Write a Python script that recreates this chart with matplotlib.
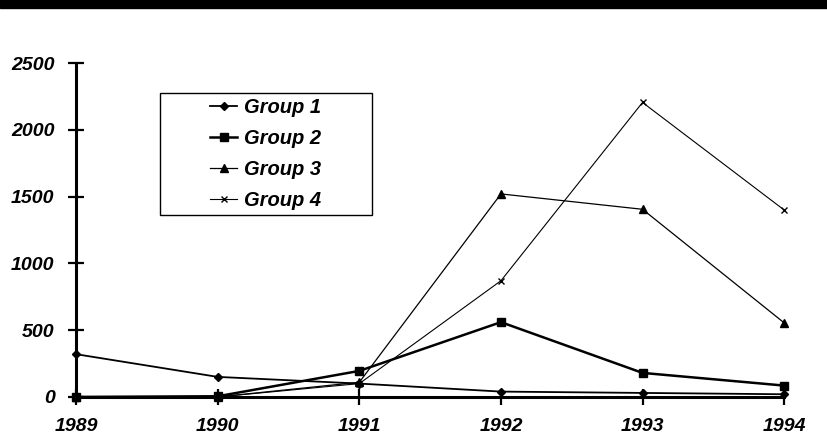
import matplotlib.pyplot as plt
from matplotlib.patches import Rectangle

years = [1989, 1990, 1991, 1992, 1993, 1994]
group1 = [320, 150, 100, 40, 30, 20]
group2 = [0, 5, 195, 560, 180, 85]
group3 = [0, 0, 110, 1520, 1405, 555]
group4 = [0, 0, 100, 870, 2205, 1400]

font = {'family': 'Liberation Sans', 'weight': 'bold', 'style': 'italic'}

fig = plt.figure(figsize=(8.28, 4.44), dpi=100)
ax = fig.add_axes([0.092, 0.106, 0.855, 0.752])

# thick bar across the top of the page
fig.add_artist(Rectangle((0, 0.982), 1, 0.018, transform=fig.transFigure,
                         color='black', zorder=10))

ax.plot(years, group1, '-', color='black', lw=1.3, marker='D', ms=4, label='Group 1', clip_on=False)
ax.plot(years, group2, '-', color='black', lw=1.8, marker='s', ms=6, label='Group 2', clip_on=False)
ax.plot(years, group3, '-', color='black', lw=0.9, marker='^', ms=6, label='Group 3', clip_on=False)
ax.plot(years, group4, '-', color='black', lw=0.8, marker='x', ms=5, label='Group 4', clip_on=False)

ax.set_xlim(1989, 1994)
ax.set_ylim(0, 2500)
ax.set_xticks(years)
ax.set_yticks([0, 500, 1000, 1500, 2000, 2500])

for s in ['top', 'right']:
    ax.spines[s].set_visible(False)
for s in ['left', 'bottom']:
    ax.spines[s].set_linewidth(2.2)

ax.tick_params(direction='inout', length=12, width=1.6)
ax.tick_params(axis='y', pad=9.5)
ax.tick_params(axis='x', pad=9)
for lab in ax.get_xticklabels() + ax.get_yticklabels():
    lab.set_fontproperties(font)
    lab.set_fontsize(14)

# legend box is wider than its content, so draw the frame separately
ax.add_patch(Rectangle((0.1186, 0.545), 0.2994, 0.365, transform=ax.transAxes,
                       facecolor='white', edgecolor='black', lw=1.0, zorder=4))
leg = ax.legend(loc='center', bbox_to_anchor=(0.268, 0.7275),
                prop=dict(font, size=14.5), handlelength=1.35, handletextpad=0.35,
                labelspacing=0.6, borderpad=0.2, borderaxespad=0,
                frameon=False)
leg.set_zorder(5)

fig.savefig('out.png', dpi=100)
